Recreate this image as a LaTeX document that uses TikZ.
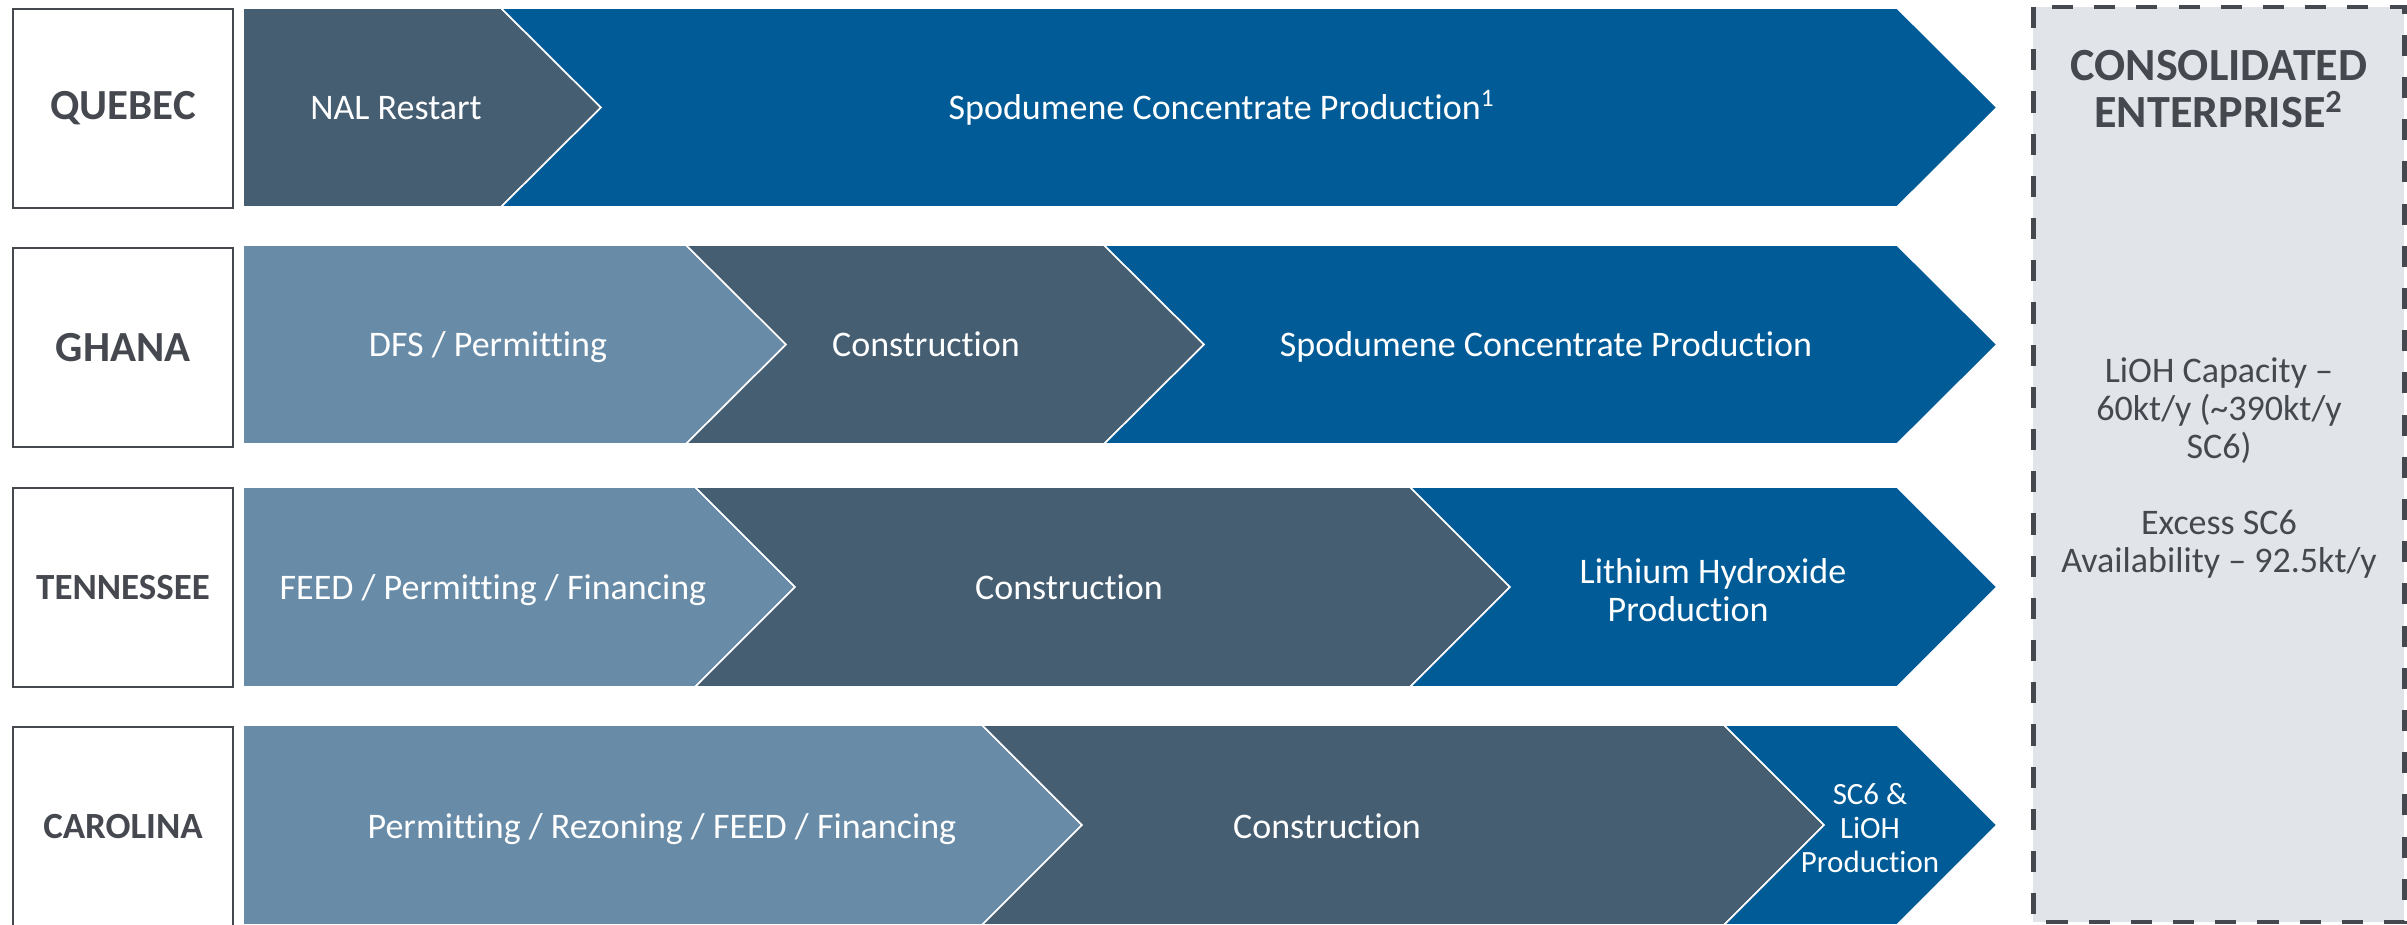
\documentclass[tikz,border=0pt]{standalone}
\usepackage{fontspec}
\setmainfont{Carlito}[Ligatures=NoCommon]
\definecolor{navy}{HTML}{005B96}
\definecolor{slate}{HTML}{455E72}
\definecolor{steel}{HTML}{688BA7}
\definecolor{mist}{HTML}{E1E5E9}
\definecolor{ink}{HTML}{45494F}
\def\tipw{100}
\def\firstchev[#1](#2,#3)(#4,#5){\draw[#1] (#2,#4) -- (#3,#4) -- ({#3+\tipw},{(#4+#5)/2}) -- (#3,#5) -- (#2,#5) -- cycle;}
\def\nextchev[#1](#2,#3)(#4,#5){\draw[#1] (#2,#4) -- (#3,#4) -- ({#3+\tipw},{(#4+#5)/2}) -- (#3,#5) -- (#2,#5) -- ({#2+\tipw},{(#4+#5)/2}) -- cycle;}

\begin{document}
\begin{tikzpicture}[x=0.01cm, y=-0.01cm,
	chev/.style={draw=white, line width=0.45pt},
	txt/.style={text=white, font=\fontsize{10.24}{10.8}\selectfont},
	line/.style={txt, text height=0.65em, text depth=0pt},
	regionbox/.style={draw=ink, line width=0.6pt, fill=white, text=ink, minimum width=2.2cm, minimum height=1.99cm},
	bigname/.style={font=\bfseries\fontsize{12.2}{13}\selectfont},
	smallname/.style={font=\bfseries\fontsize{10.5}{12}\selectfont},
	dashbox/.style={draw=ink, fill=mist, line width=1.4pt, dash pattern=on 6pt off 6pt}]
	%%%%% START %%%%%
	
	\clip (0,0) rectangle (2407,924);
	
	% region labels
	\node[regionbox, bigname] (quebec) at (123,108.5) {QUEBEC};
	\node[regionbox, bigname] (ghana) at (123,347.5) {GHANA};
	\node[regionbox, smallname] (tennessee) at (123,587.5) {TENNESSEE};
	\node[regionbox, smallname] (carolina) at (123,826.5) {CAROLINA};
	
	% quebec
	\firstchev[chev, fill=slate](243,501)(8,207)
	\nextchev[chev, fill=navy](501,1897)(8,207)
	\node[line] (nal) at (396,108) {NAL Restart};
	\node[line] (qspod) at (1222,108) {Spodumene Concentrate Production\textsuperscript{1}};
	
	% ghana
	\firstchev[chev, fill=steel](243,686)(245,444)
	\nextchev[chev, fill=slate](686,1104)(245,444)
	\nextchev[chev, fill=navy](1104,1897)(245,444)
	\node[line] (gdfs) at (488,345) {DFS / Permitting};
	\node[line] (gcon) at (926,345) {Construction};
	\node[line] (gspod) at (1546,345) {Spodumene Concentrate Production};
	
	% tennessee
	\firstchev[chev, fill=steel](243,695)(487,687)
	\nextchev[chev, fill=slate](695,1410)(487,687)
	\nextchev[chev, fill=navy](1410,1897)(487,687)
	\node[line] (tfeed) at (493,588) {FEED / Permitting / Financing};
	\node[line] (tcon) at (1069,588) {Construction};
	\node[txt, align=left] (tlioh) at (1713,590) {Lithium Hydroxide\\\hspace{0.28cm}Production};
	
	% carolina
	\firstchev[chev, fill=steel](243,982)(725,925)
	\nextchev[chev, fill=slate](982,1724)(725,925)
	\nextchev[chev, fill=navy](1724,1897)(725,925)
	\node[line] (cperm) at (662,827) {Permitting / Rezoning / FEED / Financing};
	\node[line] (ccon) at (1327,827) {Construction};
	\node[txt, align=center, font=\fontsize{8.8}{9.7}\selectfont] (csc6) at (1870,828) {SC6 \&\\LiOH\\Production};
	
	% consolidated enterprise
	\draw[dashbox] (2033,7) rectangle (2404,922);
	\node[text=ink, align=center, font=\bfseries\fontsize{13.1}{13.4}\selectfont] (consol) at (2219,89) {CONSOLIDATED\\ENTERPRISE\textsuperscript{2}};
	\node[text=ink, align=center, font=\fontsize{10.24}{10.8}\selectfont] (cap) at (2219,468) {LiOH Capacity –\\60kt/y (\textasciitilde390kt/y\\SC6)\\[10.8pt]Excess SC6\\Availability – 92.5kt/y};
	
	%%%%% END %%%%%
\end{tikzpicture}
\end{document}
